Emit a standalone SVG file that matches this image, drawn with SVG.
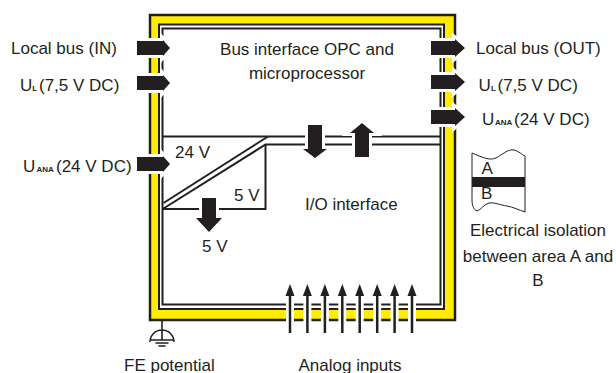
<svg xmlns="http://www.w3.org/2000/svg" width="616" height="373" viewBox="0 0 616 373">
<defs>
<style>
text{font-family:"Liberation Sans",Arial,sans-serif;font-size:17px;fill:#231F20}
.sub{font-size:8px;font-weight:bold}
.ln{fill:none;stroke:#231F20;stroke-width:2}
.arr{fill:#231F20;stroke:#fff;stroke-width:6;paint-order:stroke fill;stroke-linejoin:miter}
.halo{stroke:#fff;stroke-width:8;fill:none}
.shaft{stroke:#231F20;stroke-width:2.5;fill:none}
.mid{text-anchor:middle}
</style>
</defs>
<rect width="616" height="373" fill="#fff"/>
<g id="frame">
<rect x="150" y="15" width="305" height="305" fill="#FFED00" stroke="#231F20" stroke-width="2.5"/>
<rect x="159" y="24.5" width="285" height="284.5" fill="#fff" stroke="#231F20" stroke-width="2"/>
<rect x="162.5" y="28.5" width="278" height="276" class="ln"/>
</g>
<g id="bus-interface">
<path class="ln" d="M162.5,136.5 H440.5"/>
<text class="mid" x="307" y="55">Bus interface OPC and</text>
<text class="mid" x="307" y="79">microprocessor</text>
</g>
<g id="isolation-line">
<path class="ln" d="M163.5,203 L268,136.5"/>
<path class="ln" d="M163.5,208.5 L265.5,144.5 H440.5"/>
</g>
<g id="supply-24v">
<text x="175" y="158">24 V</text>
</g>
<g id="supply-5v">
<path class="ln" d="M265.5,144.5 V209 H162.5"/>
<text x="234" y="200.5">5 V</text>
</g>
<g id="io-interface">
<text x="305" y="210">I/O interface</text>
</g>
<g id="connectors">
<polygon class="arr" points="137,41 163,41 163,40 170,48 163,56 163,55 137,55"/>
<polygon class="arr" points="137,76 163,76 163,75 170,83 163,91 163,90 137,90"/>
<polygon class="arr" points="137,157 163,157 163,156 170,164 163,172 163,171 137,171"/>
<polygon class="arr" points="431,41 455,41 455,39 465,48 455,57 455,55 431,55"/>
<polygon class="arr" points="431,75 455,75 455,73 465,82 455,91 455,89 431,89"/>
<polygon class="arr" points="431,110 455,110 455,108 465,117 455,126 455,124 431,124"/>
<polygon class="arr" points="308,125 322,125 322,149 327,149 315,158 303,149 308,149"/>
<polygon class="arr" points="362,123 374,133 369,133 369,157 355,157 355,133 350,133"/>
<polygon class="arr" points="202,198 216,198 216,218 222,218 209,232 196,218 202,218"/>
<g id="analog-inputs">
<path class="halo" d="M290,298 V326 M307.4,298 V326 M324.9,298 V326 M342.3,298 V326 M359.7,298 V326 M377.2,298 V326 M394.6,298 V326 M412,298 V326"/>
<path class="shaft" d="M290,292 V333 M307.4,292 V333 M324.9,292 V333 M342.3,292 V333 M359.7,292 V333 M377.2,292 V333 M394.6,292 V333 M412,292 V333"/>
<g fill="#231F20">
<polygon points="285.5,296 290,284 294.5,296"/>
<polygon points="302.9,296 307.4,284 311.9,296"/>
<polygon points="320.4,296 324.9,284 329.4,296"/>
<polygon points="337.8,296 342.3,284 346.8,296"/>
<polygon points="355.2,296 359.7,284 364.2,296"/>
<polygon points="372.7,296 377.2,284 381.7,296"/>
<polygon points="390.1,296 394.6,284 399.1,296"/>
<polygon points="407.5,296 412,284 416.5,296"/>
</g>
</g>
</g>
<g id="labels-left">
<text x="11" y="53.5">Local bus (IN)</text>
<text x="20" y="91">U<tspan class="sub" x="32.3">L</tspan><tspan x="39">(7,5 V DC)</tspan></text>
<text x="23" y="172">U<tspan class="sub" x="36.5">ANA</tspan><tspan x="56">(24 V DC)</tspan></text>
</g>
<g id="labels-right">
<text x="476" y="54">Local bus (OUT)</text>
<text x="478.5" y="91">U<tspan class="sub" x="491">L</tspan><tspan x="497.5">(7,5 V DC)</tspan></text>
<text x="482" y="125">U<tspan class="sub" x="495">ANA</tspan><tspan x="514">(24 V DC)</tspan></text>
</g>
<g id="output-5v">
<text x="202" y="251.5">5 V</text>
</g>
<g id="isolation-legend">
<path d="M472,153 C482,157 489,161 496,158 C503,154 508,149 514,150 C519,151 522,155 525,156 L525,212 C519,210 513,207 507,206 C500,205 494,202 489,203 C484,204 481,210 477,211 C474,210 472,206 472,200 Z" fill="#fff" stroke="#231F20" stroke-width="1"/>
<rect x="472" y="177" width="53" height="10" fill="#231F20"/>
<text x="481.5" y="173.5">A</text>
<text x="481" y="198.5">B</text>
<text class="mid" x="538" y="236">Electrical isolation</text>
<text class="mid" x="538" y="261.5">between area A and</text>
<text class="mid" x="538" y="286">B</text>
</g>
<g id="fe-ground">
<path d="M162,321 V340 M150,342 A12,12 0 0,1 174,342 M151,340 H173 M155.5,343 H168.5 M158.5,346 H165.5" fill="none" stroke="#231F20" stroke-width="1.6"/>
<text x="124" y="370.5">FE potential</text>
</g>
<g id="analog-label">
<text class="mid" x="350" y="370.5">Analog inputs</text>
</g>
</svg>
